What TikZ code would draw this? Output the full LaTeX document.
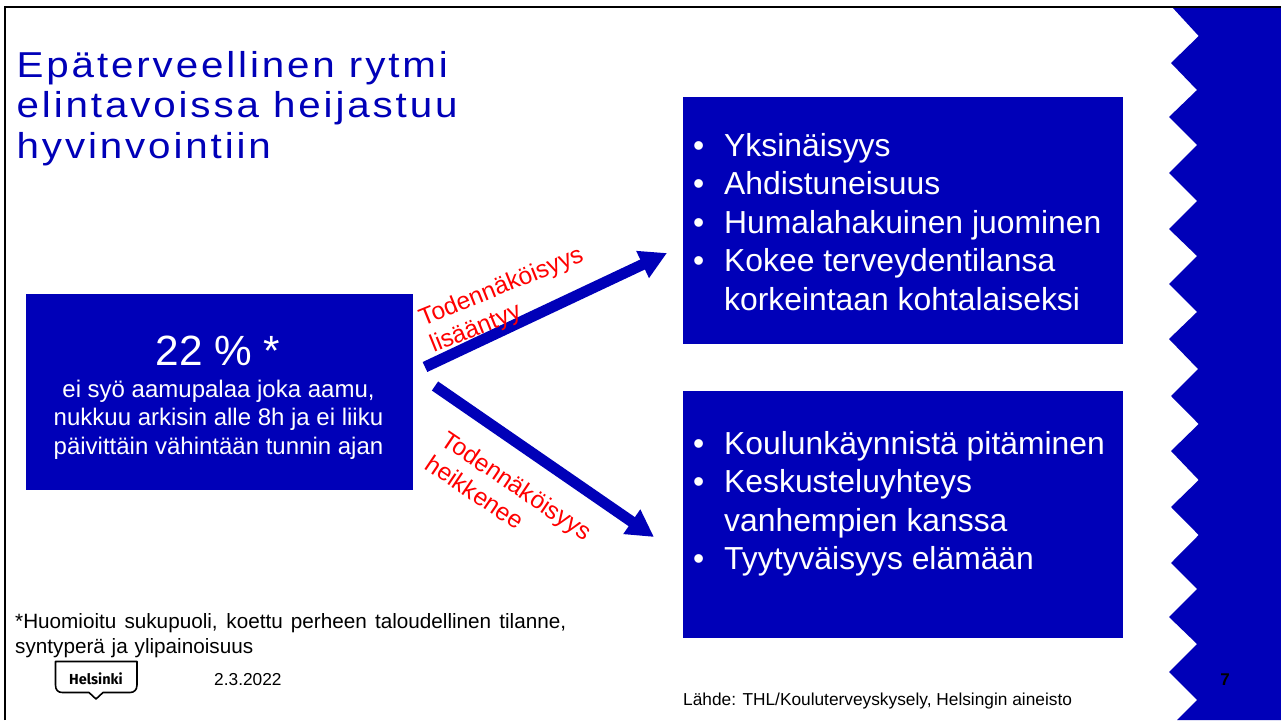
\documentclass[tikz,border=0pt]{standalone}
\usepackage{fontspec}
\setmainfont{Liberation Sans}
\newfontfamily\titlefont[LetterSpace=8,FakeStretch=1.12]{Liberation Sans}
\newfontfamily\logofont{Fira Sans}
\usetikzlibrary{arrows.meta}
\definecolor{hkiblue}{RGB}{0,0,184}
\definecolor{hkired}{RGB}{255,0,0}
\newcommand{\fsz}[2]{\fontsize{#1pt}{#2pt}\selectfont}
\newcommand{\bul}[1]{\makebox[31pt][l]{•}#1}
\newcommand{\cont}[1]{\makebox[31pt][l]{}#1}
\tikzset{
  bluebox/.style={fill=hkiblue,draw=none,inner sep=0pt,anchor=north west},
  listtext/.style={text=white,inner sep=0pt,anchor=north west,align=left,font=\fsz{31.85}{38.5}},
  redlabel/.style={text=hkired,inner sep=0pt,align=left,font=\fsz{24.5}{29}},
  bigarrow/.style={draw=hkiblue,line width=11pt,-{Triangle[length=27pt,width=28pt]}},
  small/.style={inner sep=0pt,text=black,font=\fsz{17.3}{20}},
}
\begin{document}
\begin{tikzpicture}[x=1pt,y=-1pt]
\useasboundingbox (0,0) rectangle (1281,720);
\fill[white] (0,0) rectangle (1281,720);
% zigzag band
\fill[hkiblue] (1172,7) -- (1198.7,36) -- (1171,63) -- (1197,90) -- (1169,117) -- (1197,145) -- (1169,173) -- (1197,201) -- (1169,229)
 -- (1197,256) -- (1169,284) -- (1197,312) -- (1169,339) -- (1198,369) -- (1171,396) -- (1198.7,424) -- (1171,451) -- (1198.7,480)
 -- (1171,507) -- (1198.7,535) -- (1171,563) -- (1197,589) -- (1169,617) -- (1197,644) -- (1169,672) -- (1197,700) -- (1177,720)
 -- (1281,720) -- (1281,7) -- cycle;
% frame
\draw[black,line width=2.5pt] (5,720) -- (5,7) -- (1281,7);
% title
\node[inner sep=0pt,anchor=north west,align=left,text=hkiblue,font=\titlefont\fsz{36}{40.5}] (title) at (16.5,51)
 {Epäterveellinen rytmi\\elintavoissa heijastuu\\hyvinvointiin};
% boxes
\node[bluebox,minimum width=387pt,minimum height=196pt] (left) at (26,294) {};
\node[bluebox,minimum width=440pt,minimum height=247pt] (top) at (683,97) {};
\node[bluebox,minimum width=440pt,minimum height=247pt] (bottom) at (683,391) {};
% left box text
\node[text=white,inner sep=0pt,font=\fsz{42.3}{46}] (pct) at (218,351) {22 \% *};
\node[text=white,inner sep=0pt,align=center,font=\fsz{24}{28.5}] (desc) at (218.5,419.5)
 {ei syö aamupalaa joka aamu,\\nukkuu arkisin alle 8h ja ei liiku\\päivittäin vähintään tunnin ajan};
% lists
\node[listtext] (list1) at (693,133) {\bul{Yksinäisyys}\\\bul{Ahdistuneisuus}\\\bul{Humalahakuinen juominen}\\\bul{Kokee terveydentilansa}\\\cont{korkeintaan kohtalaiseksi}};
\node[listtext] (list2) at (693,431) {\bul{Koulunkäynnistä pitäminen}\\\bul{Keskusteluyhteys}\\\cont{vanhempien kanssa}\\\bul{Tyytyväisyys elämään}};
% arrows
\coordinate (a1s) at (425,367);
\coordinate (a1e) at (667,253);
\coordinate (a2s) at (435,386);
\coordinate (a2e) at (654,537);
\draw[bigarrow] (a1s) -- (a1e);
\draw[bigarrow] (a2s) -- (a2e);
% arrow labels
\node[redlabel,rotate=22] (lab1) at (507,301) {Todennäköisyys\\lisääntyy};
\node[redlabel,rotate=-34] (lab2) at (509,497.5) {Todennäköisyys\\heikkenee};
% footer
\node[inner sep=0pt,anchor=north west,align=left,text=black,font=\fsz{20.7}{25}] (note) at (15,613)
 {\makebox[551pt][s]{*Huomioitu sukupuoli, koettu perheen taloudellinen tilanne,}\\\makebox[238pt][s]{syntyperä ja ylipainoisuus}};
\draw[black,line width=1.6pt,fill=white,line join=round] (55.5,661.5) -- (137,661.5) -- (137,685) .. controls (137,690) and (134,692.5) .. (130,692.5) -- (103,692.5) -- (96,699) -- (89,692.5) -- (62.5,692.5) .. controls (58,692.5) and (55.5,690) .. (55.5,685) -- cycle;
\node[inner sep=0pt,text=black,font=\logofont\bfseries\fsz{14.5}{16}] (logo) at (96,679) {Helsinki};
\node[small,anchor=west] (date) at (214,680) {2.3.2022};
\node[small,anchor=west] (source) at (683,701) {Lähde: THL/Kouluterveyskysely, Helsingin aineisto};
\node[small,font=\bfseries\fsz{17}{20}] (page) at (1225,680) {7};
\end{tikzpicture}
\end{document}
